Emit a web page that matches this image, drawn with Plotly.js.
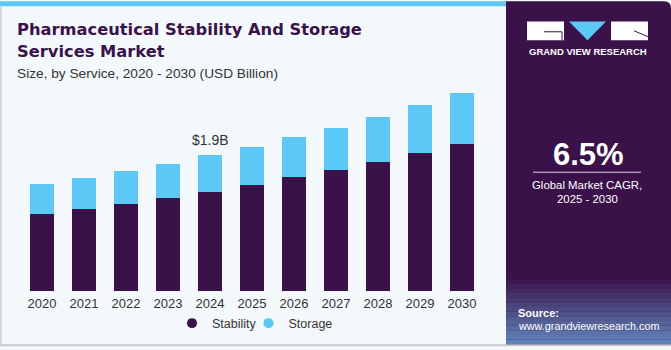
<!DOCTYPE html>
<html><head><meta charset="utf-8">
<script src="https://cdn.plot.ly/plotly-3.0.1.min.js"></script>
<style>html,body{margin:0;padding:0;background:#f3f8fb;}#chart{width:671px;height:350px;}</style>
</head><body><div id="chart"></div>
<script>
const years = [2020,2021,2022,2023,2024,2025,2026,2027,2028,2029,2030];
const yearLabels = ['2020','2021','2022','2023','2024','2025','2026','2027','2028','2029','2030'];
const stability = [1.076,1.145,1.224,1.307,1.389,1.482,1.592,1.689,1.807,1.928,2.056];
const storage   = [0.420,0.434,0.455,0.473,0.511,0.538,0.566,0.593,0.635,0.676,0.713];
const seriesNames = ['Stability','Storage'];
const totalLabel = '$1.9B';
const labelYear = 2024;
const cagr = '6.5%';

const DARK = '#3a1249', BLUE = '#5bc8f5', BG = '#f3f8fb';
const L = 21, R = 188, T = 85, B = 56, W = 671, H = 350;
const PW = W - L - R, PH = H - T - B, BOT = H - B;
const px = x => (x - L) / PW;
const py = y => (BOT - y) / PH;
const FONT = 'Liberation Sans, Arial, sans-serif';
const TFONT = 'DejaVu Sans, sans-serif';

const traces = [
  {type:'bar', x: years, y: stability, name: seriesNames[0], marker:{color: DARK, line:{width:0}}, showlegend:false, width:0.555},
  {type:'bar', x: years, y: storage, name: seriesNames[1], marker:{color: BLUE, line:{width:0}}, showlegend:false, width:0.555},
  {type:'scatter', mode:'markers', x:[years[0]], y:[-1], name: seriesNames[0], legend:'legend', marker:{color: DARK, size:10, symbol:'circle'}},
  {type:'scatter', mode:'markers', x:[years[0]], y:[-1], name: seriesNames[1], legend:'legend2', marker:{color: BLUE, size:10, symbol:'circle'}}
];

const idx = years.indexOf(labelYear);
function panelPath(){
  return `M ${px(506)},${py(348)} L ${px(506)},${py(0)} L ${px(664)},${py(0)} Q ${px(671)},${py(0)} ${px(671)},${py(7)} L ${px(671)},${py(348)} Z`;
}
const shapes = [
  {type:'rect', xref:'paper', yref:'paper', x0:px(0), x1:px(506), y0:py(5), y1:py(0), fillcolor:BLUE, line:{width:0}, layer:'below'},
  {type:'rect', xref:'paper', yref:'paper', x0:px(0), x1:px(2), y0:py(350), y1:py(5), fillcolor:'#d4d8dc', line:{width:0}, layer:'below'},
  {type:'rect', xref:'paper', yref:'paper', x0:px(0), x1:px(671), y0:py(350), y1:py(348), fillcolor:'#c8ccd0', line:{width:0}, layer:'below'},
  {type:'path', xref:'paper', yref:'paper', path: panelPath(), fillcolor:DARK, line:{width:0}, layer:'below'},
];
const gradTop = 282, gradBot = 348, nb = 14;
for (let i = 0; i < nb; i++) {
  const y0 = gradTop + (gradBot - gradTop) * i / nb, y1 = gradTop + (gradBot - gradTop) * (i + 1) / nb;
  const t = (i + 1) / nb;
  const r = Math.round(58 + (95 - 58) * t), g = Math.round(18 + (130 - 18) * t), b = Math.round(73 + (185 - 73) * t);
  shapes.push({type:'rect', xref:'paper', yref:'paper', x0:px(506), x1:px(671), y0:py(y1), y1:py(y0), fillcolor:`rgb(${r},${g},${b})`, line:{width:0}, layer:'below'});
}
shapes.push(
  {type:'rect', xref:'paper', yref:'paper', x0:px(527), x1:px(564), y0:py(39.5), y1:py(20.5), fillcolor:'#ffffff', line:{width:0}},
  {type:'path', xref:'paper', yref:'paper', path:`M ${px(569)},${py(20.5)} L ${px(606)},${py(20.5)} L ${px(587.5)},${py(39.5)} Z`, fillcolor:BLUE, line:{width:0}},
  {type:'rect', xref:'paper', yref:'paper', x0:px(611), x1:px(648), y0:py(39.5), y1:py(20.5), fillcolor:'#ffffff', line:{width:0}},
  {type:'path', xref:'paper', yref:'paper', path:`M ${px(544)},${py(31)} L ${px(562)},${py(31)} L ${px(562)},${py(39.5)}`, line:{color:DARK, width:1}},
  {type:'path', xref:'paper', yref:'paper', path:`M ${px(634)},${py(30)} L ${px(648)},${py(36)}`, line:{color:DARK, width:1}},
  {type:'line', xref:'paper', yref:'paper', x0:px(533), x1:px(641), y0:py(173.5), y1:py(173.5), line:{color:'#d8d0e0', width:1}}
);

const ann = (text, x, y, opts) => Object.assign({text, xref:'paper', yref:'paper', x:px(x), y:py(y), showarrow:false, xanchor:'left', yanchor:'middle'}, opts);
const annotations = [
  ann('<b>Pharmaceutical Stability And Storage</b>', 15, 29, {font:{family:TFONT, size:16.3, color:DARK}}),
  ann('<b>Services Market</b>', 15, 51, {font:{family:TFONT, size:16.3, color:DARK}}),
  ann('Size, by Service, 2020 - 2030 (USD Billion)', 15, 73, {font:{family:FONT, size:13.7, color:'#333333'}}),
  {text: totalLabel, xref:'x', yref:'y', x: years[idx], y: stability[idx] + storage[idx], yshift: 15, showarrow:false, xanchor:'center', yanchor:'middle', font:{family:FONT, size:14, color:'#333333'}},
  ann('<b>GRAND VIEW RESEARCH</b>', 587.5, 51, {xanchor:'center', font:{family:FONT, size:9.5, color:'#ffffff'}}),
  ann('<b>' + cagr + '</b>', 588, 156, {xanchor:'center', font:{family:FONT, size:31, color:'#ffffff'}}),
  ann('Global Market CAGR,', 587, 186, {xanchor:'center', font:{family:FONT, size:11.4, color:'#ffffff'}}),
  ann('2025 - 2030', 587, 201, {xanchor:'center', font:{family:FONT, size:11.4, color:'#ffffff'}}),
  ann('<b>Source:</b>', 516, 316, {font:{family:FONT, size:11, color:'#ffffff'}}),
  ann('www.grandviewresearch.com', 516, 329.5, {font:{family:FONT, size:10.8, color:'#ffffff'}})
];

const legendBase = {orientation:'h', yanchor:'middle', xanchor:'left', y:py(327), font:{family:FONT, size:12.5, color:'#333333'}, bgcolor:'rgba(0,0,0,0)', itemclick:false};
const layout = {
  width: W, height: H,
  margin: {l:L, r:R, t:T, b:B, pad:0},
  paper_bgcolor: BG, plot_bgcolor: BG,
  barmode: 'stack',
  font: {family: FONT, color:'#333333'},
  xaxis: {type:'linear', range:[2019.5, 2030.5], tickmode:'array', tickvals: years, ticktext: yearLabels, showgrid:false, zeroline:false, showline:false, ticks:'', ticklabelstandoff:3, tickfont:{family:FONT, size:13, color:'#333333'}, fixedrange:true},
  yaxis: {range:[0, 2.884], visible:false, showgrid:false, zeroline:false, fixedrange:true},
  showlegend: true,
  legend: Object.assign({}, legendBase, {x:px(172)}),
  legend2: Object.assign({}, legendBase, {x:px(248.5)}),
  shapes, annotations
};
Plotly.newPlot('chart', traces, layout, {displayModeBar:false, staticPlot:true});
</script></body></html>
